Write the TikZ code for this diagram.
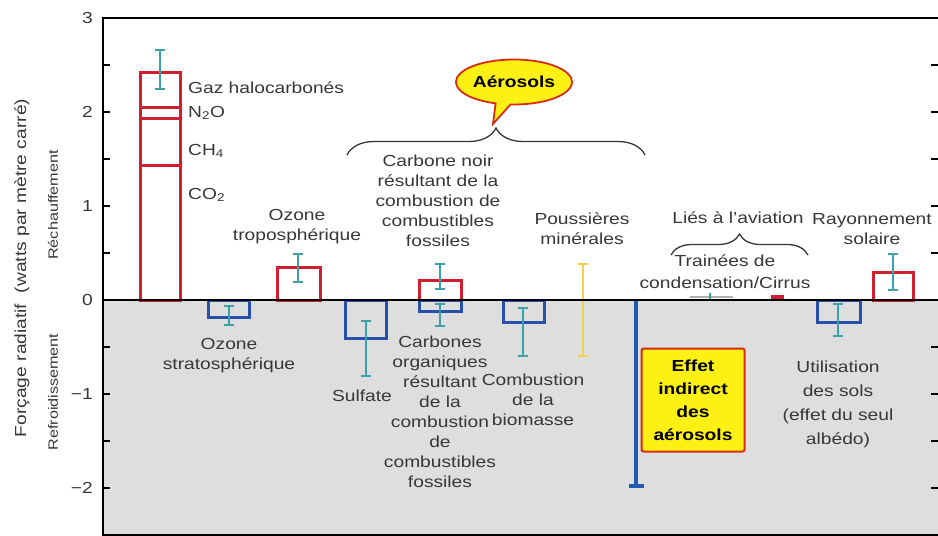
\documentclass[tikz,border=0pt]{standalone}
\usepackage{fontspec}
\setmainfont{Liberation Sans}[FakeStretch=1.2]
\usetikzlibrary{arrows.meta,decorations.pathreplacing,shapes.callouts}

\definecolor{barred}{RGB}{208,32,48}
\definecolor{barblue}{RGB}{40,80,170}
\definecolor{errteal}{RGB}{60,160,170}
\definecolor{dustyellow}{RGB}{240,210,80}
\definecolor{coolgrey}{RGB}{222,222,222}
\definecolor{labelgrey}{RGB}{55,55,55}
\definecolor{boxyellow}{RGB}{252,240,20}
\definecolor{boxred}{RGB}{215,45,20}
\definecolor{effetblue}{RGB}{35,90,180}

\begin{document}
\begin{tikzpicture}[x=1pt, y=-1pt,
    annot/.style={align=center, inner sep=0pt, text=labelgrey, font=\fontsize{16}{20}\selectfont},
    smallannot/.style={inner sep=0pt, text=labelgrey, rotate=90, font=\fontsize{13.5}{16}\selectfont},
    redbar/.style={draw=barred, line width=3pt},
    bluebar/.style={draw=barblue, line width=3pt},
    errbar/.style={draw=errteal, line width=1.8pt, {Bar[width=10pt]}-{Bar[width=10pt]}},
    axisline/.style={line width=2.5pt},
    curly/.style={decorate, decoration={brace, amplitude=#1}, line width=1.3pt, draw=labelgrey},
    bubble/.style={ellipse callout, fill=boxyellow, draw=boxred, line width=1.8pt, minimum width=112pt,
        minimum height=45pt, inner sep=0pt, font=\bfseries\fontsize{16}{20}\selectfont},
    effetbox/.style={rectangle, rounded corners=2pt, fill=boxyellow, draw=boxred, line width=2pt,
        minimum size=103pt, inner sep=0pt, align=center, font=\bfseries\fontsize{16}{23}\selectfont}
]
    \useasboundingbox (0,0) rectangle (938,536);

    % Grey cooling half
    \fill[coolgrey] (103,300) rectangle (938,535);

    % Halocarbons, N2O, CH4, CO2
    \draw[redbar] (140,300) rectangle (180,72);
    \draw[redbar] (140,107) -- (180,107);
    \draw[redbar] (140,118) -- (180,118);
    \draw[redbar] (140,165) -- (180,165);
    \draw[errbar] (160,49) -- (160,90);
    \node[annot, anchor=west] (halo) at (188,88) {Gaz halocarbonés};
    \node[annot, anchor=west] (ntwoo) at (188,113) {N\textsubscript{2}O};
    \node[annot, anchor=west] (methane) at (188,151) {CH\textsubscript{4}};
    \node[annot, anchor=west] (cotwo) at (188,195) {CO\textsubscript{2}};

    % Ozone
    \draw[bluebar] (208,300) rectangle (249,317);
    \draw[errbar] (229,305) -- (229,326);
    \node[annot] (ozstrato) at (229,356) {Ozone\\stratosphérique};
    \draw[redbar] (277,300) rectangle (320,267);
    \draw[errbar] (298,253) -- (298,283);
    \node[annot] (oztropo) at (297,227) {Ozone\\troposphérique};

    % Sulfate
    \draw[bluebar] (345,300) rectangle (386,338);
    \draw[errbar] (366,320) -- (366,377);
    \node[annot] (sulfate) at (362,396) {Sulfate};

    % Black and organic carbon
    \draw[redbar] (419,300) rectangle (461,280);
    \draw[bluebar] (419,300) rectangle (461,311);
    \draw[errbar] (440,263) -- (440,290);
    \draw[errbar] (440,303) -- (440,327);
    \node[annot] (carbnoir) at (438,201) {Carbone noir\\résultant de la\\combustion de\\combustibles\\fossiles};
    \node[annot] (carborg) at (440,412) {Carbones\\organiques\\résultant\\de la\\combustion\\de\\combustibles\\fossiles};

    % Biomass burning
    \draw[bluebar] (503,300) rectangle (544,322);
    \draw[errbar] (523,307) -- (523,357);
    \node[annot] (biomasse) at (533,400) {Combustion\\de la\\biomasse};

    % Mineral dust
    \draw[errbar, draw=dustyellow, line width=2.4pt] (583,263) -- (583,357);
    \node[annot] (poussieres) at (582,229) {Poussières\\minérales};

    % Aerosols group
    \coordinate (aerleft) at (347,155);
    \coordinate (aerright) at (645,155);
    \draw[curly=27pt] (aerleft) -- (aerright);
    \node[bubble, callout absolute pointer={(493,124)}] (aerosols) at (514,82) {Aérosols};

    % Indirect effect
    \draw[draw=effetblue, line width=4pt, -{Bar[width=15pt]}] (636,300) -- (636,488);
    \node[effetbox] (effet) at (693,400) {Effet\\indirect\\des\\aérosols};

    % Aviation
    \draw[draw=gray!60, line width=1.5pt] (690,297) -- (733,297);
    \draw[draw=errteal, line width=1.8pt] (710,293) -- (710,299);
    \fill[barred] (771,295) rectangle (784,300);
    \node[annot] (aviation) at (738,218) {Liés à l'aviation};
    \coordinate (avileft) at (671,255);
    \coordinate (aviright) at (808,255);
    \draw[curly=21pt] (avileft) -- (aviright);
    \node[annot, font=\fontsize{16}{22}\selectfont] (trainees) at (725,272) {Trainées de\\condensation/Cirrus};

    % Land use
    \draw[bluebar] (817,300) rectangle (860,322);
    \draw[errbar] (838,303) -- (838,337);
    \node[annot, font=\fontsize{16}{24}\selectfont] (sols) at (838,404) {Utilisation\\des sols\\(effet du seul\\albédo)};

    % Solar
    \draw[redbar] (873,300) rectangle (913,272);
    \draw[errbar] (893,253) -- (893,291);
    \node[annot] (solaire) at (872,229) {Rayonnement\\solaire};

    % Frame and ticks
    \draw[axisline] (938,18) -- (103,18) -- (103,535) -- (938,535);
    \draw[axisline] (103,300) -- (938,300);
    \foreach \v in {3,2.5,...,-2.5} {
        \draw[axisline] (103,{300-94*\v}) -- (110,{300-94*\v});
        \draw[axisline] (931,{300-94*\v}) -- (938,{300-94*\v});
    }
    \foreach \v/\t in {3/3,2/2,1/1,0/0,-1/−1,-2/−2}
        \node[annot, anchor=east] (tick\v) at (93,{300-94*\v}) {\t};

    % Axis titles
    \node[annot, rotate=90] (ytitle) at (22,268) {Forçage radiatif\ \ (watts par mètre carré)};
    \node[smallannot] (rechauff) at (53,205) {Réchauffement};
    \node[smallannot] (refroid) at (53,392) {Refroidissement};
\end{tikzpicture}
\end{document}
